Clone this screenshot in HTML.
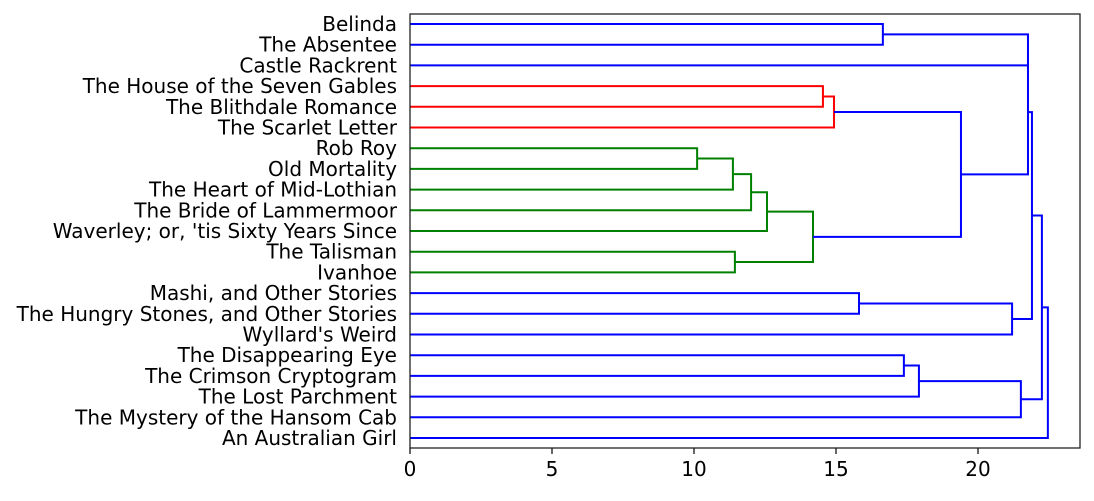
<!DOCTYPE html>
<html><head><meta charset="utf-8"><style>
body{margin:0;background:#fff;}
svg text{font-family:"DejaVu Sans","Liberation Sans",sans-serif;font-size:20px;fill:#000;}
</style></head><body>
<svg id="chart" width="1094" height="496" xmlns="http://www.w3.org/2000/svg">
<g id="links"></g>
<g id="labels"></g>
<g id="xaxis"></g>
<rect x="410" y="14" width="670" height="434" fill="none" stroke="#222" stroke-width="1.3"/>
</svg>
<script>
const leaves = ["Belinda","The Absentee","Castle Rackrent","The House of the Seven Gables","The Blithdale Romance","The Scarlet Letter","Rob Roy","Old Mortality","The Heart of Mid-Lothian","The Bride of Lammermoor","Waverley; or, 'tis Sixty Years Since","The Talisman","Ivanhoe","Mashi, and Other Stories","The Hungry Stones, and Other Stories","Wyllard's Weird","The Disappearing Eye","The Crimson Cryptogram","The Lost Parchment","The Mystery of the Hansom Cab","An Australian Girl"];
// merges: child A, child B (index < 21 = leaf, else 21 + merge index), height, colour
const mergeA = [0, 21, 3, 23, 6, 25, 26, 27, 11, 28, 24, 22, 13, 33, 32, 16, 36, 37, 35, 39];
const mergeB = [1, 2, 4, 5, 7, 8, 9, 10, 12, 29, 30, 31, 14, 15, 34, 17, 18, 19, 38, 20];
const heights = [16.65, 21.76, 14.54, 14.93, 10.11, 11.37, 12.01, 12.57, 11.44, 14.19, 19.40, 21.76, 15.81, 21.20, 21.90, 17.39, 17.92, 21.51, 22.25, 22.46];
const colors = ["b","b","r","r","g","g","g","g","g","g","b","b","b","b","b","b","b","b","b","b"];
const xTicks = [0, 5, 10, 15, 20];
</script>
<script>
const col = {b:"#0000ff", r:"#ff0000", g:"#008000"};
const NS = "http://www.w3.org/2000/svg";
const x = v => 410 + v * 28.4;
const yLeaf = i => 24 + i * 20.7;
const pos = [];
leaves.forEach((n, i) => pos.push({x: 0, y: yLeaf(i)}));
const gl = document.getElementById('links');
heights.forEach((h, k) => {
  const a = pos[mergeA[k]], b = pos[mergeB[k]];
  const p = document.createElementNS(NS, 'path');
  p.setAttribute('d', `M${x(a.x)},${a.y}H${x(h)}V${b.y}H${x(b.x)}`);
  p.setAttribute('fill', 'none');
  p.setAttribute('stroke', col[colors[k]]);
  p.setAttribute('stroke-width', '2');
  
  
  gl.appendChild(p);
  pos.push({x: h, y: (a.y + b.y) / 2});
});
const glab = document.getElementById('labels');
leaves.forEach((n, i) => {
  const t = document.createElementNS(NS, 'text');
  t.setAttribute('x', 397);
  t.setAttribute('y', yLeaf(i) + 7);
  t.setAttribute('text-anchor', 'end');
  t.textContent = n;
  
  
  glab.appendChild(t);
});
const gx = document.getElementById('xaxis');
xTicks.forEach(v => {
  const l = document.createElementNS(NS, 'line');
  l.setAttribute('x1', x(v)); l.setAttribute('x2', x(v));
  l.setAttribute('y1', 448); l.setAttribute('y2', 454);
  l.setAttribute('stroke', '#000'); l.setAttribute('stroke-width', '1.2');
  
  
  gx.appendChild(l);
  const t = document.createElementNS(NS, 'text');
  t.setAttribute('x', x(v)); t.setAttribute('y', 476);
  t.setAttribute('text-anchor', 'middle');
  t.textContent = v;
  
  
  gx.appendChild(t);
});
</script>
</body></html>
